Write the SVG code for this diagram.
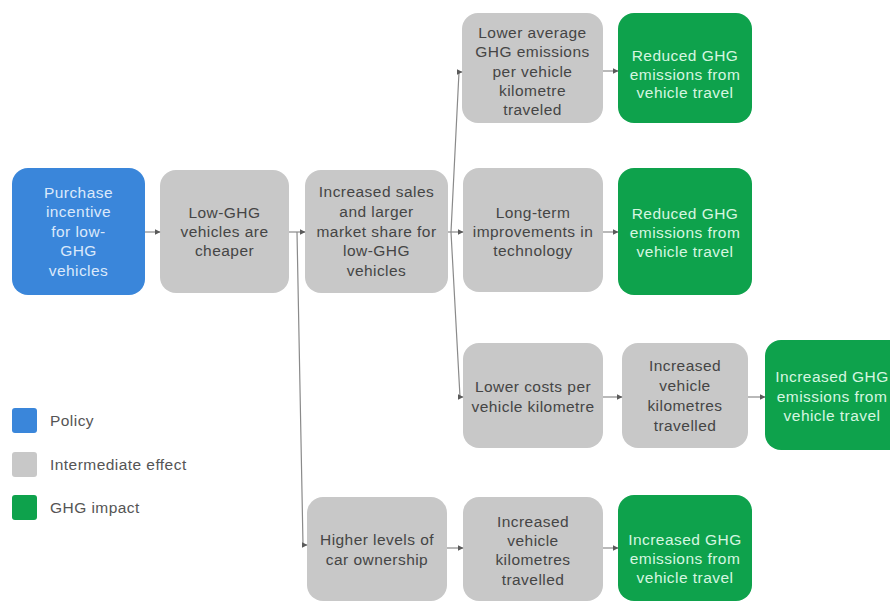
<svg xmlns="http://www.w3.org/2000/svg" width="890" height="602" viewBox="0 0 890 602">
<defs>
<style>
.box{stroke:none}
.pol{fill:#3a86da}
.mid{fill:#c8c8c8}
.ghg{fill:#0ea24c}
text{font-family:"Liberation Sans",Arial,sans-serif;font-size:15.5px;letter-spacing:0.45px;text-anchor:middle}
.tm{fill:#454545}
.tp{fill:#dbe9fb}
.tg{fill:#d6f6e0}
.lg{fill:#555;text-anchor:start}
.con path{fill:none;stroke:#8a8a8a;stroke-width:1.2;marker-end:url(#ah)}
</style>
<marker id="ah" viewBox="0 0 6 6" refX="5.5" refY="3" markerWidth="6" markerHeight="6" markerUnits="userSpaceOnUse" orient="auto">
<path d="M0,0 L6,3 L0,6 Z" fill="#5a5a5a"/>
</marker>
</defs>
<rect width="890" height="602" fill="#ffffff"/>

<g id="n1"><rect class="box pol" x="12" y="168" width="133" height="127" rx="16"/>
<text class="tp" x="78.5" y="198">Purchase</text><text class="tp" x="78.5" y="217">incentive</text><text class="tp" x="78.5" y="237">for low-</text><text class="tp" x="78.5" y="256">GHG</text><text class="tp" x="78.5" y="276">vehicles</text></g>

<g id="n2"><rect class="box mid" x="160" y="170" width="129" height="123" rx="16"/>
<text class="tm" x="224.5" y="218">Low-GHG</text><text class="tm" x="224.5" y="237">vehicles are</text><text class="tm" x="224.5" y="256">cheaper</text></g>

<g id="n3"><rect class="box mid" x="305" y="170" width="143" height="123" rx="16"/>
<text class="tm" x="376.5" y="197">Increased sales</text><text class="tm" x="376.5" y="217">and larger</text><text class="tm" x="376.5" y="237">market share for</text><text class="tm" x="376.5" y="256">low-GHG</text><text class="tm" x="376.5" y="276">vehicles</text></g>

<g id="n4"><rect class="box mid" x="462" y="13" width="141" height="110" rx="16"/>
<text class="tm" x="532.5" y="38">Lower average</text><text class="tm" x="532.5" y="57">GHG emissions</text><text class="tm" x="532.5" y="77">per vehicle</text><text class="tm" x="532.5" y="96">kilometre</text><text class="tm" x="532.5" y="115">traveled</text></g>

<g id="n5"><rect class="box ghg" x="618" y="13" width="134" height="110" rx="16"/>
<text class="tg" x="685" y="61">Reduced GHG</text><text class="tg" x="685" y="80">emissions from</text><text class="tg" x="685" y="98">vehicle travel</text></g>

<g id="n6"><rect class="box mid" x="463" y="168" width="140" height="124" rx="16"/>
<text class="tm" x="533" y="218">Long-term</text><text class="tm" x="533" y="237">improvements in</text><text class="tm" x="533" y="256">technology</text></g>

<g id="n7"><rect class="box ghg" x="618" y="168" width="134" height="127" rx="16"/>
<text class="tg" x="685" y="219">Reduced GHG</text><text class="tg" x="685" y="238">emissions from</text><text class="tg" x="685" y="257">vehicle travel</text></g>

<g id="n8"><rect class="box mid" x="463" y="343" width="140" height="105" rx="16"/>
<text class="tm" x="533" y="392">Lower costs per</text><text class="tm" x="533" y="412">vehicle kilometre</text></g>

<g id="n9"><rect class="box mid" x="622" y="343" width="126" height="105" rx="16"/>
<text class="tm" x="685" y="371">Increased</text><text class="tm" x="685" y="391">vehicle</text><text class="tm" x="685" y="411">kilometres</text><text class="tm" x="685" y="431">travelled</text></g>

<g id="n10"><rect class="box ghg" x="765" y="340" width="140" height="110" rx="16"/>
<text class="tg" x="832" y="382">Increased GHG</text><text class="tg" x="832" y="402">emissions from</text><text class="tg" x="832" y="421">vehicle travel</text></g>

<g id="n11"><rect class="box mid" x="307" y="497" width="140" height="104" rx="16"/>
<text class="tm" x="377" y="545">Higher levels of</text><text class="tm" x="377" y="565">car ownership</text></g>

<g id="n12"><rect class="box mid" x="463" y="497" width="140" height="104" rx="16"/>
<text class="tm" x="533" y="527">Increased</text><text class="tm" x="533" y="546">vehicle</text><text class="tm" x="533" y="565">kilometres</text><text class="tm" x="533" y="585">travelled</text></g>

<g id="n13"><rect class="box ghg" x="618" y="495" width="134" height="106" rx="16"/>
<text class="tg" x="685" y="545">Increased GHG</text><text class="tg" x="685" y="564">emissions from</text><text class="tg" x="685" y="583">vehicle travel</text></g>

<g id="connectors" class="con">
<path d="M145,232 L160,232"/>
<path d="M289,232 L305,232"/>
<path d="M297,232 L303,545 L307,545"/>
<path d="M448,232 L463,232"/>
<path d="M451,232 L459,72 L462,72"/>
<path d="M451,232 L460,397 L463,397"/>
<path d="M603,71 L618,71"/>
<path d="M603,232 L618,232"/>
<path d="M603,397 L622,397"/>
<path d="M748,397 L765,397"/>
<path d="M447,548 L463,548"/>
<path d="M603,548 L618,548"/>
</g>

<g id="legend">
<rect class="pol" x="12" y="408" width="25" height="25" rx="3"/>
<text class="lg" x="50" y="426">Policy</text>
<rect class="mid" x="12" y="452" width="25" height="25" rx="3"/>
<text class="lg" x="50" y="470">Intermediate effect</text>
<rect class="ghg" x="12" y="495" width="25" height="25" rx="3"/>
<text class="lg" x="50" y="513">GHG impact</text>
</g>
</svg>
